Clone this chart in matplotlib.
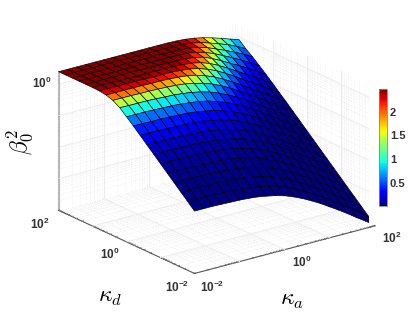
import numpy as np
import matplotlib
matplotlib.use("Agg")
import matplotlib.pyplot as plt
from matplotlib.cm import ScalarMappable
from matplotlib.colors import Normalize

plt.rcParams["font.family"] = ["Liberation Sans", "DejaVu Sans"]
plt.rcParams["mathtext.fontset"] = "custom"
plt.rcParams["mathtext.rm"] = "Liberation Sans:bold"
plt.rcParams["mathtext.default"] = "rm"

# log10 of kappa_a and kappa_d at the mesh nodes
kappa_a_exp = [-2.0, -1.8, -1.6, -1.4, -1.2, -1.0, -0.8, -0.6, -0.4, -0.2, 0.0,
               0.2, 0.4, 0.6, 0.8, 1.0, 1.2, 1.4, 1.6, 1.8, 2.0]
kappa_d_exp = [-2.0, -1.8, -1.6, -1.4, -1.2, -1.0, -0.8, -0.6, -0.4, -0.2, 0.0,
               0.2, 0.4, 0.6, 0.8, 1.0, 1.2, 1.4, 1.6, 1.8, 2.0]

# log10(beta_0^2), one row per kappa_a
log_beta = [
    [-2.02, -1.82, -1.62, -1.42, -1.22, -1.02, -0.82, -0.62, -0.42, -0.22, -0.03, 0.16, 0.29, 0.36, 0.39, 0.40, 0.40, 0.40, 0.40, 0.40, 0.40],
    [-2.02, -1.82, -1.62, -1.42, -1.22, -1.02, -0.82, -0.62, -0.42, -0.22, -0.03, 0.15, 0.29, 0.36, 0.39, 0.40, 0.40, 0.40, 0.40, 0.40, 0.40],
    [-2.02, -1.82, -1.62, -1.42, -1.22, -1.02, -0.82, -0.62, -0.42, -0.23, -0.03, 0.15, 0.29, 0.36, 0.39, 0.40, 0.40, 0.40, 0.40, 0.40, 0.40],
    [-2.03, -1.83, -1.63, -1.43, -1.23, -1.03, -0.83, -0.63, -0.43, -0.23, -0.04, 0.15, 0.28, 0.36, 0.39, 0.39, 0.40, 0.40, 0.40, 0.40, 0.40],
    [-2.04, -1.84, -1.64, -1.44, -1.24, -1.04, -0.84, -0.64, -0.44, -0.24, -0.05, 0.14, 0.28, 0.36, 0.39, 0.39, 0.40, 0.40, 0.40, 0.40, 0.40],
    [-2.05, -1.85, -1.65, -1.45, -1.25, -1.05, -0.85, -0.65, -0.45, -0.25, -0.06, 0.12, 0.27, 0.35, 0.39, 0.39, 0.40, 0.40, 0.40, 0.40, 0.40],
    [-2.07, -1.87, -1.67, -1.47, -1.27, -1.07, -0.87, -0.67, -0.47, -0.27, -0.08, 0.11, 0.26, 0.35, 0.38, 0.39, 0.40, 0.40, 0.40, 0.40, 0.40],
    [-2.10, -1.90, -1.70, -1.50, -1.30, -1.10, -0.90, -0.70, -0.50, -0.30, -0.11, 0.08, 0.24, 0.34, 0.38, 0.39, 0.40, 0.40, 0.40, 0.40, 0.40],
    [-2.15, -1.95, -1.75, -1.55, -1.35, -1.15, -0.95, -0.75, -0.55, -0.35, -0.15, 0.04, 0.21, 0.32, 0.38, 0.39, 0.40, 0.40, 0.40, 0.40, 0.40],
    [-2.21, -2.01, -1.81, -1.61, -1.41, -1.21, -1.01, -0.81, -0.61, -0.41, -0.21, -0.02, 0.15, 0.29, 0.36, 0.39, 0.40, 0.40, 0.40, 0.40, 0.40],
    [-2.29, -2.09, -1.89, -1.69, -1.49, -1.29, -1.09, -0.89, -0.69, -0.50, -0.30, -0.10, 0.08, 0.23, 0.33, 0.37, 0.39, 0.40, 0.40, 0.40, 0.40],
    [-2.40, -2.20, -2.00, -1.80, -1.60, -1.40, -1.20, -1.00, -0.80, -0.60, -0.40, -0.21, -0.02, 0.14, 0.27, 0.34, 0.38, 0.39, 0.40, 0.40, 0.40],
    [-2.53, -2.33, -2.13, -1.93, -1.73, -1.53, -1.33, -1.13, -0.93, -0.73, -0.53, -0.34, -0.15, 0.03, 0.17, 0.28, 0.34, 0.38, 0.39, 0.39, 0.40],
    [-2.68, -2.48, -2.28, -2.08, -1.88, -1.68, -1.48, -1.28, -1.08, -0.88, -0.68, -0.49, -0.30, -0.12, 0.05, 0.18, 0.28, 0.33, 0.37, 0.38, 0.39],
    [-2.84, -2.64, -2.44, -2.24, -2.04, -1.84, -1.64, -1.44, -1.24, -1.05, -0.85, -0.65, -0.46, -0.28, -0.11, 0.04, 0.16, 0.25, 0.31, 0.35, 0.37],
    [-3.02, -2.82, -2.62, -2.42, -2.22, -2.02, -1.82, -1.62, -1.42, -1.22, -1.03, -0.83, -0.64, -0.45, -0.28, -0.12, 0.02, 0.14, 0.23, 0.29, 0.33],
    [-3.20, -3.00, -2.80, -2.60, -2.40, -2.20, -2.00, -1.80, -1.60, -1.40, -1.21, -1.02, -0.82, -0.64, -0.46, -0.29, -0.14, 0.00, 0.11, 0.20, 0.27],
    [-3.39, -3.19, -2.99, -2.79, -2.59, -2.39, -2.19, -1.99, -1.79, -1.60, -1.40, -1.20, -1.01, -0.82, -0.63, -0.46, -0.29, -0.14, -0.01, 0.10, 0.19],
    [-3.59, -3.39, -3.19, -2.99, -2.79, -2.59, -2.39, -2.19, -1.99, -1.79, -1.59, -1.39, -1.20, -1.00, -0.81, -0.63, -0.45, -0.29, -0.14, 0.00, 0.10],
    [-3.78, -3.58, -3.38, -3.18, -2.98, -2.78, -2.58, -2.38, -2.18, -1.98, -1.78, -1.58, -1.39, -1.19, -1.00, -0.81, -0.62, -0.45, -0.28, -0.13, 0.00],
    [-3.98, -3.78, -3.58, -3.38, -3.18, -2.98, -2.78, -2.58, -2.38, -2.18, -1.98, -1.78, -1.58, -1.38, -1.19, -0.99, -0.80, -0.62, -0.44, -0.28, -0.09],
]

colorbar_ticks = [0.5, 1, 1.5, 2]
colorbar_labels = ["0.5", "1", "1.5", "2"]
colorbar_range = (0.01, 2.48)
z_range = (-4.0, 0.40)

X, Y = np.meshgrid(kappa_a_exp, kappa_d_exp, indexing="ij")
Z = np.array(log_beta)
norm = Normalize(*colorbar_range)
cmap = plt.get_cmap("jet")

fig = plt.figure(figsize=(4.15, 3.13), dpi=100)
ax = fig.add_axes([5 / 415, 3.5 / 313, 1, 1], projection="3d", computed_zorder=False)
ax.set_proj_type("ortho")
ax.view_init(elev=20.5, azim=-127)
ax.set_box_aspect((1, 1, 0.655), zoom=1.092)
ax.patch.set_alpha(0)

ax.set_xlim(-2, 2, view_margin=0)
ax.set_ylim(-2, 2, view_margin=0)
ax.set_zlim(*z_range, view_margin=0)
ax.grid(False)

# grid on the floor and the two back walls: dotted minor, faint solid decades
minor = np.log10(np.arange(2, 10))
minor_xy = np.concatenate([d + minor for d in [-2, -1, 0, 1]])
minor_z = np.concatenate([d + minor for d in [-4, -3, -2, -1]])
dot = dict(color="#e2e2e2", lw=0.4, ls=(0, (1, 2)), zorder=1)
solid = dict(color="#ececec", lw=0.7, zorder=1)
for values, style in ((minor_xy, dot), ([-1, 0, 1], solid)):
    for v in values:
        ax.plot([v, v], [-2, 2], [-4, -4], **style)
        ax.plot([-2, 2], [v, v], [-4, -4], **style)
        ax.plot([v, v], [2, 2], [-4, z_range[1]], **style)
        ax.plot([2, 2], [v, v], [-4, z_range[1]], **style)
for values, style in ((minor_z, dot), ([-3, -2, -1, 0], solid)):
    for v in values:
        ax.plot([-2, 2], [2, 2], [v, v], **style)
        ax.plot([2, 2], [-2, 2], [v, v], **style)

ax.plot_surface(X, Y, Z, facecolors=cmap(norm(10 ** Z)), rstride=1, cstride=1,
                shade=False, edgecolor="black", linewidth=0.45, zorder=3,
                antialiased=True)

for axis in (ax.xaxis, ax.yaxis, ax.zaxis):
    axis.set_pane_color((1, 1, 1, 0))
    axis.pane.set_edgecolor("none")
    axis._axinfo["tick"]["inward_factor"] = 0.0
    axis._axinfo["tick"]["outward_factor"] = 0.06

# ticks on every minor position, labels written separately below
all_ticks = np.sort(np.concatenate([minor_xy, [-2, -1, 0, 1, 2]]))
ax.set_xticks(all_ticks, [""] * len(all_ticks))
ax.set_yticks(all_ticks, [""] * len(all_ticks))
ax.set_zticks([-4, -3, -2, -1, 0], [""] * 5)
ax.tick_params(colors="#555555", width=0.5)
ax.zaxis.line.set_color("#b5b5b5")
ax.zaxis.line.set_linewidth(1.5)
ax.xaxis.line.set_color("#555555")
ax.yaxis.line.set_color("#555555")

tick_style = dict(fontsize=8.5, color="#333333", ha="center", va="center")
for label, px, py in [(r"$10^{2}$", 40, 224), (r"$10^{0}$", 110, 254), (r"$10^{-2}$", 177, 287),
                      (r"$10^{-2}$", 212, 287), (r"$10^{0}$", 302, 262), (r"$10^{2}$", 392, 238),
                      (r"$10^{0}$", 42, 83)]:
    fig.text(px / 415, 1 - py / 313, label, **tick_style)

fig.text(292 / 415, 1 - 300 / 313, r"$\kappa_{\mathit{a}}$", fontsize=17, ha="center", va="center", math_fontfamily="cm")
fig.text(110 / 415, 1 - 297 / 313, r"$\kappa_{\mathit{d}}$", fontsize=17, ha="center", va="center", math_fontfamily="cm")
fig.text(20 / 415, 1 - 142 / 313, r"$\beta_0^2$", fontsize=17, ha="center", va="center", rotation=90, math_fontfamily="cm")

cax = fig.add_axes([379 / 415, 1 - 206 / 313, 8 / 415, 117 / 313])
cb = fig.colorbar(ScalarMappable(norm=norm, cmap=cmap), cax=cax)
cb.set_ticks(colorbar_ticks, labels=colorbar_labels)
cb.ax.tick_params(labelsize=8, length=0, pad=2, colors="#333333")
for label in cb.ax.get_yticklabels():
    label.set_fontweight("bold")
cb.outline.set_edgecolor("#888888")
cb.outline.set_linewidth(0.6)

fig.savefig("out.png", dpi=100)
